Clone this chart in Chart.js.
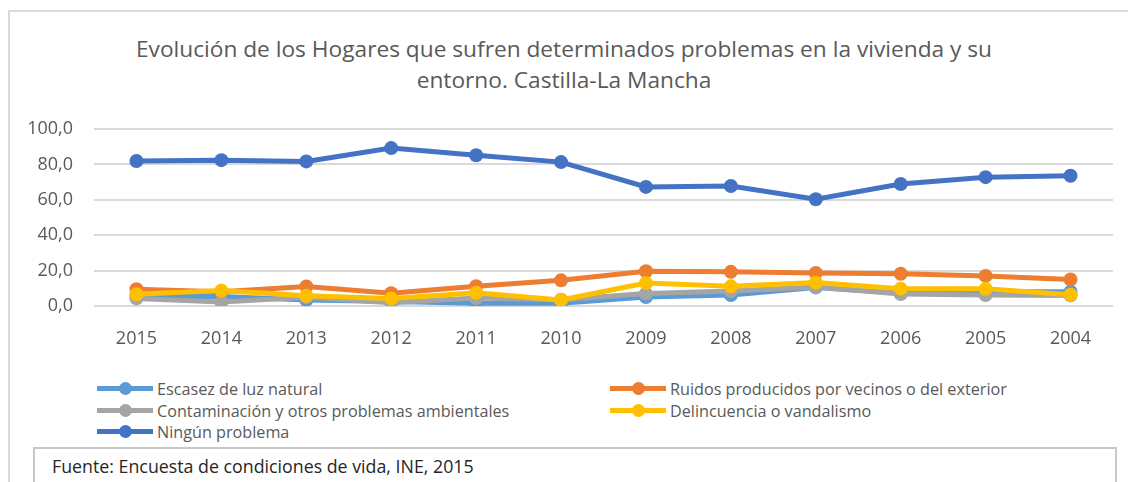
<!DOCTYPE html>
<html><head><meta charset="utf-8">
<script src="https://cdn.jsdelivr.net/npm/chart.js@4.4.0/dist/chart.umd.min.js"></script>
<style>
html,body{margin:0;padding:0;background:#fff;width:1128px;height:482px;overflow:hidden;font-family:"Open Sans",sans-serif;}
#frame{position:absolute;left:8px;top:10px;width:1200px;height:500px;border-left:2px solid #d9d9d9;border-top:2px solid #d9d9d9;}
#title{position:absolute;left:0;width:1128px;top:33px;text-align:center;color:#595959;font-size:22.7px;line-height:31px;font-weight:400;}
#wrap{position:absolute;left:0;top:0;width:1128px;height:360px;}
#legend{position:absolute;left:0;top:0;}
.li{position:absolute;height:20px;color:#595959;font-size:16.2px;line-height:20px;white-space:nowrap;}
.li .sw{position:absolute;left:0;top:7px;width:56px;height:5px;}
.li .dot{position:absolute;left:22px;top:3px;width:13px;height:13px;border-radius:50%;}
.li span{position:absolute;left:60px;top:0;}
#src{position:absolute;left:33px;top:447px;width:1080px;height:60px;border:2px solid #c8c8c8;font-size:17.8px;color:#262626;}
#src div{position:absolute;left:17px;top:5px;}
</style></head>
<body>
<div id="frame"></div>
<div id="title">Evolución de los Hogares que sufren determinados problemas en la vivienda y su<br>entorno. Castilla-La Mancha</div>
<div id="wrap"><canvas id="c" width="1128" height="360"></canvas></div>
<div id="legend"></div>
<div id="src"><div>Fuente: Encuesta de condiciones de vida, INE, 2015</div></div>
<script>
const years = ["2015","2014","2013","2012","2011","2010","2009","2008","2007","2006","2005","2004"];
const escasez = [5.3, 5.3, 3.4, 2.5, 1.5, 1.5, 5.1, 6.2, 10.5, 7.2, 8.1, 8.1];
const ruidos = [9.5, 8.0, 11.0, 7.2, 11.2, 14.5, 19.6, 19.3, 18.7, 18.2, 17.0, 15.0];
const contaminacion = [4.3, 2.3, 5.0, 1.9, 4.5, 3.5, 7.0, 8.5, 10.8, 6.8, 6.2, 6.0];
const delincuencia = [6.6, 8.7, 5.8, 4.3, 7.5, 3.4, 13.0, 11.1, 13.3, 9.8, 9.7, 6.4];
const ninguno = [81.9, 82.4, 81.7, 89.2, 85.2, 81.3, 67.3, 67.8, 60.3, 68.9, 72.8, 73.6];
const yTicks = [0, 20, 40, 60, 80, 100];

const names = ["Escasez de luz natural","Ruidos producidos por vecinos o del exterior","Contaminación y otros problemas ambientales","Delincuencia o vandalismo","Ningún problema"];
const colors = ["#5B9BD5","#ED7D31","#A5A5A5","#FFC000","#4472C4"];
const series = [escasez, ruidos, contaminacion, delincuencia, ninguno];

const datasets = series.map((d,i)=>({
  label: names[i], data: d, borderColor: colors[i], backgroundColor: colors[i],
  borderWidth: 5, pointRadius: 7, pointHoverRadius: 7, pointBorderWidth: 0,
  tension: 0, order: 5 - i, fill: false
}));

const font = {family: "'Open Sans', sans-serif", size: 18};
const chart = new Chart(document.getElementById('c'), {
  type: 'line',
  data: {labels: years, datasets},
  options: {
    responsive: false, animation: false,
    layout: {padding: {top: 129, right: 15, bottom: 0, left: 0}},
    plugins: {legend: {display: false}, title: {display: false}, tooltip: {enabled: false}},
    scales: {
      x: {offset: true, grid: {display: false}, border: {display: false},
          ticks: {color: '#595959', font, padding: 14, maxRotation: 0},
          afterFit: s => { s.height = 54; }},
      y: {min: 0, max: 100, afterBuildTicks: s => { s.ticks = yTicks.map(v=>({value:v})); },
          grid: {color: '#d9d9d9', lineWidth: 2, drawTicks: false}, border: {display: false},
          ticks: {color: '#595959', font, padding: 21, callback: v => v.toFixed(1).replace('.', ',')},
          afterFit: s => { s.width = 94; }}
    }
  }
});

// HTML legend built from chart datasets
const leg = document.getElementById('legend');
const pos = [[97,379],[610,379],[97,401],[610,401],[97,422]];
chart.data.datasets.forEach((ds,i)=>{
  const el = document.createElement('div');
  el.className = 'li';
  el.style.left = pos[i][0]+'px'; el.style.top = pos[i][1]+'px';
  el.innerHTML = `<div class="sw" style="background:${ds.borderColor}"></div><div class="dot" style="background:${ds.borderColor}"></div><span>${ds.label}</span>`;
  leg.appendChild(el);
});
</script>
</body></html>
